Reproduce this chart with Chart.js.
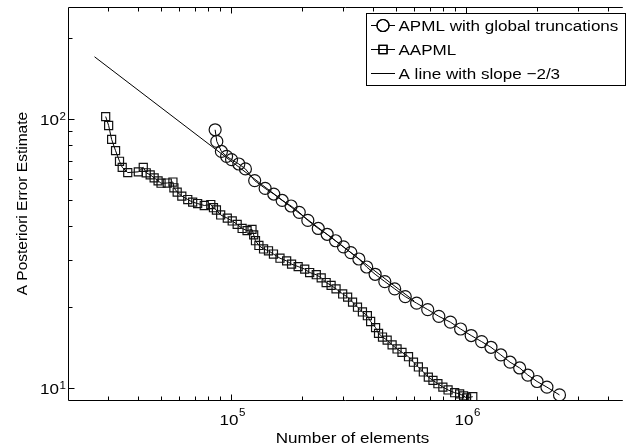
<!DOCTYPE html>
<html><head><meta charset="utf-8">
<script src="https://cdn.jsdelivr.net/npm/chart.js@4/dist/chart.umd.min.js"></script>
<style>html,body{margin:0;padding:0;background:#fff;overflow:hidden}</style>
</head><body>
<canvas id="c" width="628" height="448"></canvas>
<script>
// ---- data ----
const apmlX = [85400, 86800, 90800, 95540, 100300, 107700, 114900, 125800, 139400, 151700,
  164700, 179700, 194700, 211800, 234600, 255900, 277900, 300300, 322800, 349200,
  377100, 409500, 450200, 496000, 550000, 615000, 685500, 764500, 856300, 946200,
  1049500, 1163000, 1274200, 1403800, 1536400, 1687500, 1828500, 2001000, 2204500, 2493200];
const apmlY = [91.1, 82.5, 75.7, 72.6, 70.6, 68.0, 65.2, 59.0, 55.2, 52.6,
  49.8, 47.5, 45.0, 42.0, 39.2, 37.3, 35.3, 33.5, 31.9, 30.2,
  28.2, 26.5, 24.9, 23.4, 21.9, 20.7, 19.6, 18.5, 17.6, 16.6,
  15.7, 14.9, 14.2, 13.3, 12.5, 11.9, 11.2, 10.6, 10.1, 9.45];
const aapmlX = [29220, 30080, 30970, 32190, 33460, 34360, 36270, 40230, 42230, 43470,
  45190, 46980, 48830, 50270, 53430, 56470, 57020, 58880, 61610, 65300,
  68520, 71940, 76770, 81830, 84000, 86480, 90160, 96210, 100970, 105980,
  111250, 116760, 122550, 124600, 126800, 131140, 137240, 144040, 151220, 161220,
  172080, 180580, 192640, 205410, 215600, 230050, 241430, 253430, 266000, 279220,
  297970, 312750, 328220, 344500, 361600, 379500, 391850, 411300, 423400, 440200,
  460700, 483600, 507600, 532800, 567900, 596200, 625700, 656800, 689600, 721700,
  757500, 795200, 836800, 892900, 937200, 974100, 1003000, 1066000];
const aapmlY = [102.0, 94.5, 83.9, 76.2, 69.6, 66.1, 63.2, 63.6, 66.1, 63.1,
  62.0, 60.4, 58.9, 57.7, 57.8, 58.3, 55.5, 53.5, 51.7, 50.2,
  49.1, 48.5, 47.7, 48.1, 46.8, 45.9, 44.0, 42.8, 41.8, 40.6,
  39.2, 38.5, 38.9, 37.1, 35.3, 33.9, 32.9, 32.4, 31.5, 30.4,
  29.7, 28.9, 28.3, 27.7, 26.9, 26.4, 25.7, 24.7, 24.1, 23.4,
  22.4, 21.8, 20.9, 20.0, 19.2, 18.6, 17.7, 16.8, 16.0, 15.5,
  15.1, 14.5, 14.0, 13.6, 13.1, 12.5, 12.0, 11.5, 11.0, 10.7,
  10.4, 10.1, 9.86, 9.63, 9.54, 9.37, 9.21, 9.31];
const slopeX = [26200, 600000];
const slopeY = [170, 21.1];
const seriesNames = ['APML with global truncations', 'AAPML', 'A line with slope \u22122/3'];
const xMajorTicks = [1e5, 1e6];
const xMajorExp = ['5', '6'];
const xMinorTicks = [3e4, 4e4, 5e4, 6e4, 7e4, 8e4, 9e4, 2e5, 3e5, 4e5, 5e5, 6e5, 7e5, 8e5, 9e5, 2e6, 3e6, 4e6];
const yMajorTicks = [10, 100];
const yMajorExp = ['1', '2'];
const yMinorTicks = [20, 30, 40, 50, 60, 70, 80, 90, 200];
const xTitle = 'Number of elements';
const yTitle = 'A Posteriori Error Estimate';

const toPts = (xs, ys) => xs.map((x, i) => ({x: x, y: ys[i]}));
const FONT = '"Liberation Sans", Arial, Helvetica, sans-serif';
const SX = 1.1;

function txt(ctx, s, x, y, size, align) {
  ctx.save();
  ctx.font = size + 'px ' + FONT;
  const w = ctx.measureText(s).width * SX;
  const x0 = align === 'center' ? x - w / 2 : (align === 'right' ? x - w : x);
  ctx.translate(x0, y);
  ctx.scale(SX, 1);
  ctx.textAlign = 'left';
  ctx.textBaseline = 'alphabetic';
  ctx.fillStyle = '#000';
  ctx.fillText(s, 0, 0);
  ctx.restore();
  return w;
}
function width(ctx, s, size) {
  ctx.save(); ctx.font = size + 'px ' + FONT;
  const w = ctx.measureText(s).width * SX; ctx.restore(); return w;
}

const frame = {
  id: 'frame',
  afterDraw(chart) {
    const ctx = chart.ctx, a = chart.chartArea;
    const xs = chart.scales.x, ys = chart.scales.y;
    const L = Math.round(a.left) + 0.5, T = Math.round(a.top) + 0.5, B = Math.round(a.bottom) + 0.5, R = a.right + 2;
    ctx.save();
    ctx.strokeStyle = '#000';
    ctx.lineWidth = 1;
    ctx.beginPath();
    ctx.moveTo(R, T); ctx.lineTo(L, T); ctx.lineTo(L, B); ctx.lineTo(R, B);
    ctx.stroke();
    ctx.beginPath();
    const xt = (v, len) => { const p = Math.round(xs.getPixelForValue(v)) + 0.5;
      ctx.moveTo(p, B); ctx.lineTo(p, B - len); ctx.moveTo(p, T); ctx.lineTo(p, T + len); };
    const yt = (v, len) => { const p = Math.round(ys.getPixelForValue(v)) + 0.5;
      ctx.moveTo(L, p); ctx.lineTo(L + len, p); };
    xMajorTicks.forEach(v => xt(v, 6));
    xMinorTicks.forEach(v => xt(v, 4));
    yMajorTicks.forEach(v => yt(v, 6));
    yMinorTicks.forEach(v => yt(v, 4));
    ctx.stroke();
    ctx.restore();
    xMajorTicks.forEach((v, i) => {
      const p = xs.getPixelForValue(v);
      const w1 = width(ctx, '10', 15.5), w2 = width(ctx, xMajorExp[i], 10.5);
      const x0 = p - (w1 + w2) / 2 + 1;
      txt(ctx, '10', x0, 424.5, 15.5, 'left');
      txt(ctx, xMajorExp[i], x0 + w1 + 0.5, 415.5, 10.5, 'left');
    });
    yMajorTicks.forEach((v, i) => {
      const p = ys.getPixelForValue(v);
      const w1 = width(ctx, '10', 15.5), w2 = width(ctx, yMajorExp[i], 10.5);
      const x0 = 65.5 - (w1 + w2);
      txt(ctx, '10', x0, p + 6, 15.5, 'left');
      txt(ctx, yMajorExp[i], x0 + w1 + 0.5, p + 1, 10.5, 'left');
    });
    txt(ctx, xTitle, (a.left + 637) / 2, 442.5, 15.5, 'center');
    ctx.save();
    ctx.translate(26.5, (a.top + a.bottom) / 2);
    ctx.rotate(-Math.PI / 2);
    ctx.font = '15.5px ' + FONT;
    ctx.textAlign = 'center';
    ctx.textBaseline = 'alphabetic';
    ctx.fillStyle = '#000';
    ctx.fillText(yTitle, 0, 0);
    ctx.restore();
    // legend
    const bx = 366.5, by = 13.5, bw = 259, bh = 72;
    ctx.save();
    ctx.fillStyle = '#fff';
    ctx.fillRect(bx, by, bw, bh);
    ctx.strokeStyle = '#000';
    ctx.lineWidth = 1;
    ctx.strokeRect(bx, by, bw, bh);
    const rows = [25.5, 49.5, 73.5];
    const styles = ['circle', 'rect', false];
    rows.forEach((ry, i) => {
      ctx.beginPath();
      ctx.moveTo(371, ry); ctx.lineTo(395, ry);
      ctx.strokeStyle = '#000'; ctx.lineWidth = 1; ctx.stroke();
      if (styles[i]) {
        ctx.lineWidth = 1.2;
        Chart.helpers.drawPoint(ctx, {pointStyle: styles[i], radius: styles[i] === 'circle' ? 6 : 5.7, borderWidth: 1.2, rotation: 0}, 383, ry);
        ctx.fillStyle = 'rgba(0,0,0,0)';
        ctx.stroke();
      }
      txt(ctx, seriesNames[i], 398.5, ry + 5.5, 15.5, 'left');
    });
    ctx.restore();
  }
};

new Chart(document.getElementById('c'), {
  type: 'scatter',
  data: {
    datasets: [
      { label: seriesNames[0], data: toPts(apmlX, apmlY), showLine: true, borderColor: '#000', borderWidth: 1,
        pointStyle: 'circle', pointRadius: 6, pointBorderWidth: 1.2, pointBorderColor: '#111', pointBackgroundColor: 'rgba(0,0,0,0)' },
      { label: seriesNames[1], data: toPts(aapmlX, aapmlY), showLine: true, borderColor: '#000', borderWidth: 1,
        pointStyle: 'rect', pointRadius: 5.7, pointBorderWidth: 1.2, pointBorderColor: '#111', pointBackgroundColor: 'rgba(0,0,0,0)' },
      { label: seriesNames[2], data: toPts(slopeX, slopeY), showLine: true, borderColor: '#000', borderWidth: 1,
        pointRadius: 0 }
    ]
  },
  options: {
    responsive: false,
    devicePixelRatio: 1,
    animation: false,
    events: [],
    layout: { padding: { left: 68, top: 5, right: 0, bottom: 48 } },
    plugins: { legend: { display: false }, tooltip: { enabled: false } },
    scales: {
      x: { type: 'logarithmic', display: false, min: 20200, max: 4546000 },
      y: { type: 'logarithmic', display: false, min: 9.05, max: 259.7 }
    }
  },
  plugins: [frame]
});
</script>
</body></html>
